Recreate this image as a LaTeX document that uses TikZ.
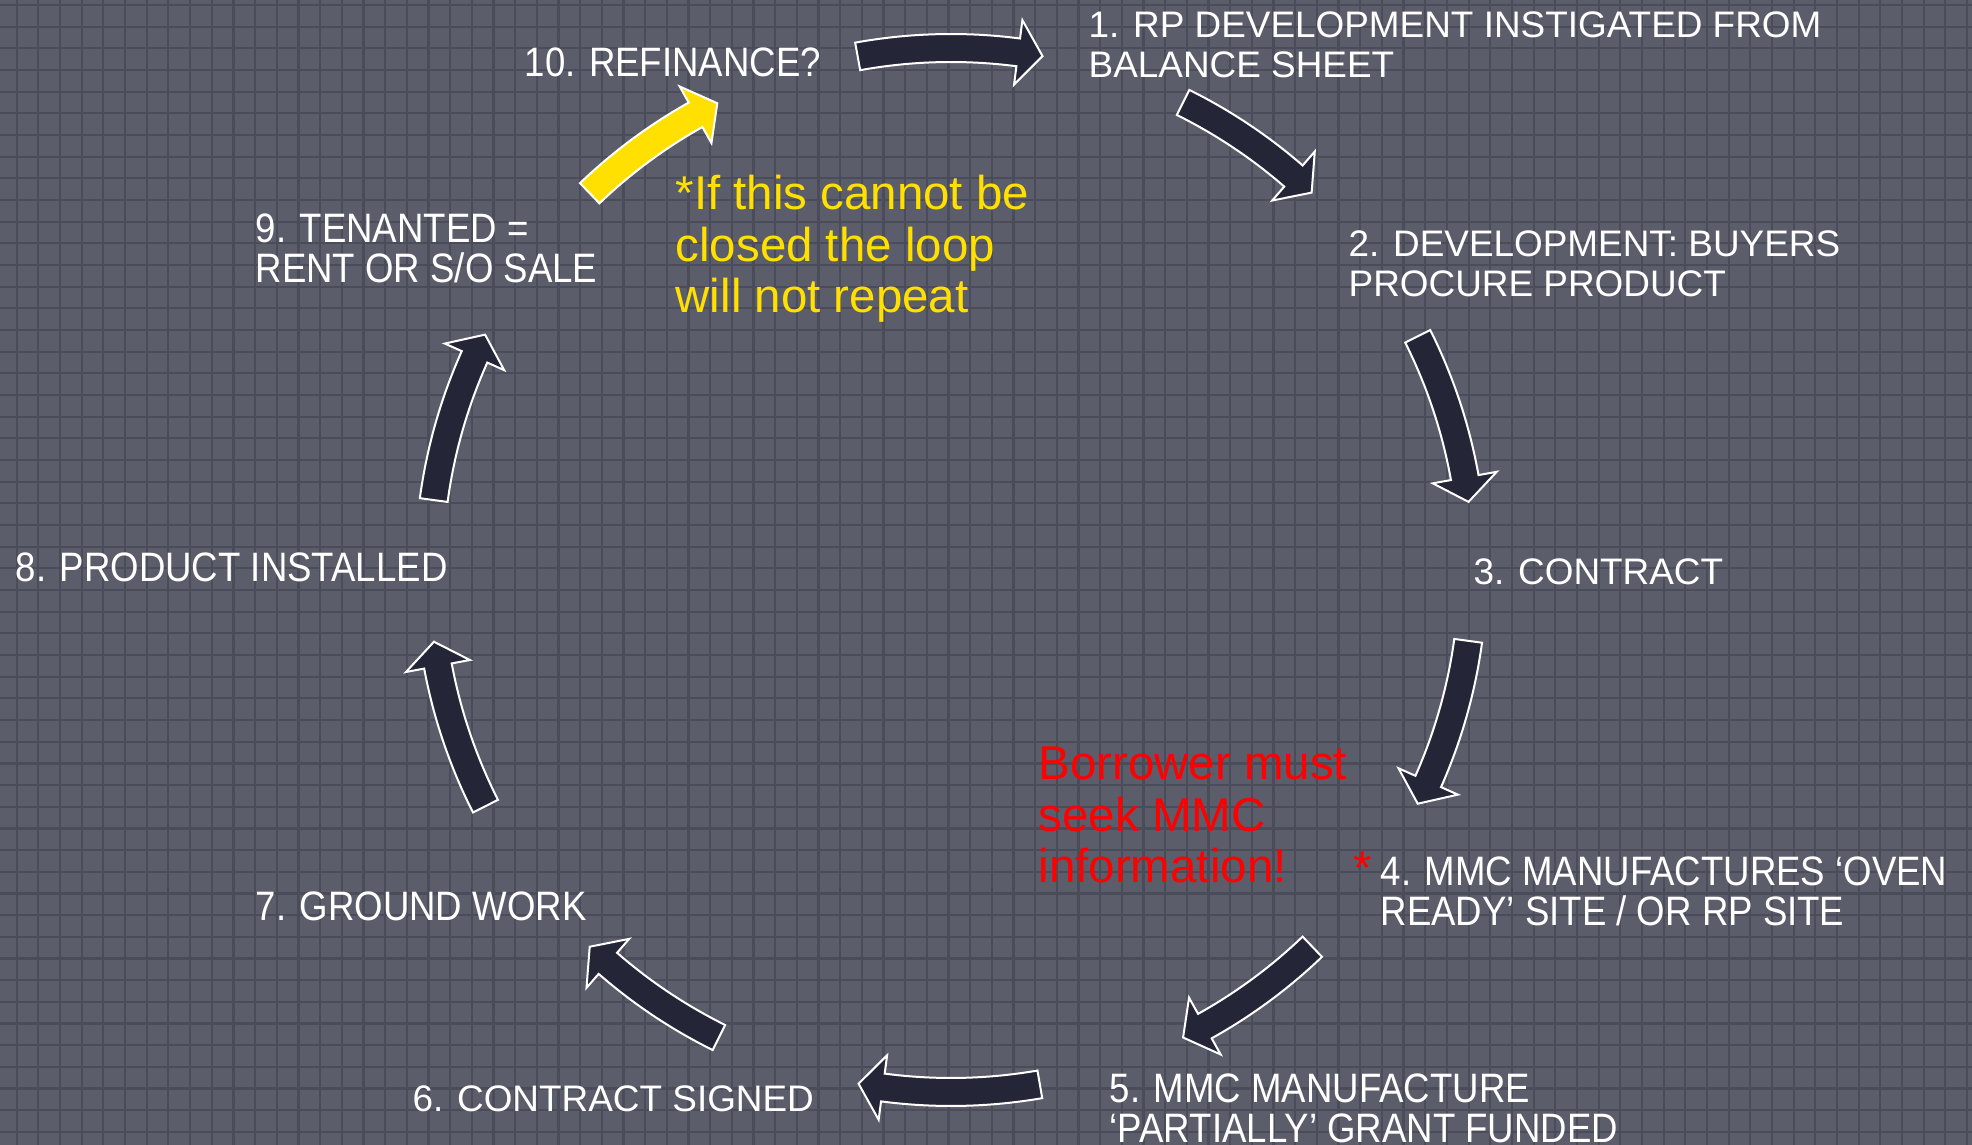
\documentclass[tikz,border=0pt]{standalone}
\usepackage{fontspec}
\setmainfont{Liberation Sans}
\newfontfamily\narrowfont[FakeStretch=0.89]{Liberation Sans}

\definecolor{slate}{HTML}{5B5D6B}
\definecolor{gridcol}{HTML}{4A4C59}
\definecolor{arrowfill}{HTML}{242637}
\definecolor{warnyellow}{HTML}{FFE000}
\definecolor{warnred}{HTML}{FF0000}

% one block arrow on the loop: #2 = tail angle, #3 = tip angle
\newcommand{\cyclearrow}[3][arrowfill]{%
  \filldraw[stepshape, fill=#1]
    (#2:536) arc[start angle=#2, end angle=#3+2.7, radius=536]
    -- ({#3+2.7}:554.5) -- (#3:522) -- ({#3+2.7}:489.5) -- ({#3+2.7}:508)
    arc[start angle=#3+2.7, end angle=#2, radius=508] -- cycle;}

\tikzset{
  stage/.style={text=white, anchor=base west, inner sep=0pt, align=left,
    font=\fontsize{10.5}{11.4}\selectfont},
  narrowstage/.style={stage, font=\narrowfont\fontsize{11.7}{11.6}\selectfont},
  note/.style={anchor=base west, inner sep=0pt, align=left,
    font=\fontsize{13.5}{14.7}\selectfont},
  gridline/.style={draw=gridcol, line width=0.22mm},
  stepshape/.style={draw=white, line width=0.2mm, line join=miter},
}

\begin{document}
\begin{tikzpicture}[x=0.1mm, y=0.1mm]
\useasboundingbox (0,0) rectangle (1972,1145);

% tiled background
\fill[slate] (0,0) rectangle (1972,1145);
\begin{scope}
\clip (0,0) rectangle (1972,1145);
\draw[gridline, shift={(16.7,13.2)}, step=21.67] (-40,-40) grid (1990,1160);
\end{scope}

% the loop of arrows
\begin{scope}[shift={(951,575)}]
\cyclearrow{100.3}{79.9}
\cyclearrow{63.6}{46.3}
\cyclearrow{26.6}{7.5}
\cyclearrow{-7.8}{-26.6}
\cyclearrow{-46.2}{-63.6}
\cyclearrow{-80.2}{-100.2}
\cyclearrow{-116.4}{-133.8}
\cyclearrow{-153.1}{-172.1}
\cyclearrow{172.3}{153.2}
\cyclearrow[warnyellow]{133.8}{116.6}
\end{scope}

% stages (base = last line)
\node[stage] (s1) at (1088,1067) {1. RP DEVELOPMENT INSTIGATED FROM\\BALANCE SHEET};
\node[stage] (s2) at (1348,848) {2. DEVELOPMENT: BUYERS\\PROCURE PRODUCT};
\node[stage] (s3) at (1473,560) {3. CONTRACT};
\node[narrowstage] (s4) at (1380,219) {4. MMC MANUFACTURES ‘OVEN\\READY’ SITE / OR RP SITE};
\node[narrowstage] (s5) at (1109,2) {5. MMC MANUFACTURE\\‘PARTIALLY’ GRANT FUNDED};
\node[stage] (s6) at (412,33) {6. CONTRACT SIGNED};
\node[narrowstage] (s7) at (255,224) {7. GROUND WORK};
\node[narrowstage] (s8) at (15,563) {8. PRODUCT INSTALLED};
\node[narrowstage] (s9) at (255,862) {9. TENANTED =\\RENT OR S/O SALE};
\node[narrowstage] (s10) at (524,1068) {10. REFINANCE?};

% warnings
\node[note, text=warnred] (borrower) at (1038,262) {Borrower must\\seek MMC\\information!};
\node[note, text=warnred] (star) at (1353,260) {*};
\node[note, text=warnyellow] (refinote) at (675,832) {*If this cannot be\\closed the loop\\will not repeat};
\end{tikzpicture}
\end{document}
